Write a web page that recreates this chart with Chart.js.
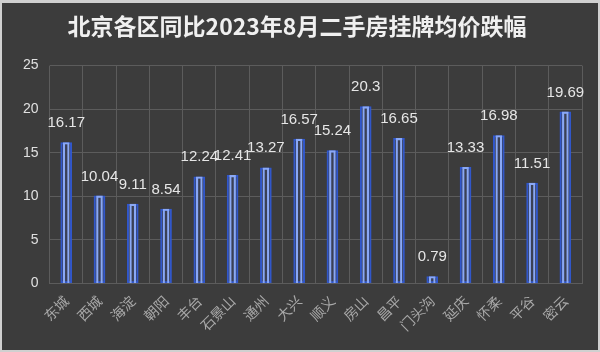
<!DOCTYPE html>
<html>
<head>
<meta charset="utf-8">
<script src="https://cdn.jsdelivr.net/npm/chart.js@4"></script>
<style>
  html, body { margin: 0; padding: 0; background: #3c3c3c; }
  #wrap { width: 600px; height: 352px; }
</style>
</head>
<body>
<div id="wrap"><canvas id="chart_dropByDistrict"></canvas></div>
<script>
// 北京各区 2023年8月 二手房挂牌均价同比跌幅 (%)
var districts = ['东城', '西城', '海淀', '朝阳', '丰台', '石景山', '通州', '大兴', '顺义', '房山', '昌平', '门头沟', '延庆', '怀柔', '平谷', '密云'];
var dropPct = [16.17, 10.04, 9.11, 8.54, 12.24, 12.41, 13.27, 16.57, 15.24, 20.3, 16.65, 0.79, 13.33, 16.98, 11.51, 19.69];
var yTicks = [0, 5, 10, 15, 20, 25];

var chart_dropByDistrict = new Chart(document.getElementById('chart_dropByDistrict'), {
    type: 'bar',
    data: {
        labels: districts,
        datasets: [
            {
                label: 'outer',
                data: dropPct,
                barThickness: 11,
                borderWidth: 2,
                borderColor: 'rgba(48, 88, 210, 0.95)',
                backgroundColor: '#3a4055',
                borderSkipped: false,
                grouped: false,
                order: 2
            },
            {
                label: 'inner',
                data: dropPct,
                barThickness: 6,
                borderWidth: 1.5,
                borderColor: '#8aa8f5',
                backgroundColor: 'rgba(0,0,0,0)',
                borderSkipped: 'bottom',
                grouped: false,
                order: 1
            }
        ]
    },
    options: {
        animation: false,
        responsive: true,
        maintainAspectRatio: false,
        layout: { padding: { left: 12, right: 18, top: 2, bottom: 9 } },
        plugins: {
            legend: { display: false },
            tooltip: { enabled: false },
            title: {
                display: true,
                text: '北京各区同比2023年8月二手房挂牌均价跌幅',
                color: '#f0f0f0',
                font: { family: '"Noto Sans CJK SC"', size: 23, weight: 'bold' },
                padding: { top: 10, bottom: 26 }
            }
        },
        scales: {
            x: {
                grid: { color: '#5c5c5c', offset: true, drawTicks: false },
                border: { color: '#5c5c5c' },
                ticks: {
                    color: '#a8a8a8',
                    font: { family: '"Noto Sans CJK SC"', size: 14 },
                    maxRotation: 45,
                    minRotation: 45,
                    padding: 9
                }
            },
            y: {
                min: 0,
                max: 25,
                afterBuildTicks: function(axis) {
                    axis.ticks = yTicks.map(function(v) { return { value: v }; });
                },
                grid: { color: '#5c5c5c', drawTicks: false },
                border: { display: false },
                ticks: {
                    color: '#e0e0e0',
                    font: { family: '"Liberation Sans"', size: 14 },
                    padding: 11
                }
            }
        }
    },
    plugins: [{
        id: 'frameAndLabels',
        beforeDraw: (chart) => {
            const ctx = chart.ctx;
            ctx.save();
            ctx.fillStyle = '#d0d0d0';
            ctx.fillRect(0, 0, chart.width, chart.height);
            ctx.fillStyle = '#3c3c3c';
            ctx.fillRect(2, 3, chart.width - 4, chart.height - 5);
            ctx.restore();
        },
        afterDatasetsDraw: (chart) => {
            const ctx = chart.ctx;
            const meta = chart.getDatasetMeta(0);
            ctx.save();
            ctx.fillStyle = '#e6e6e6';
            ctx.font = '15px "Liberation Sans"';
            ctx.textAlign = 'center';
            ctx.textBaseline = 'bottom';
            meta.data.forEach(function(bar, i) {
                ctx.fillText(String(dropPct[i]), bar.x, bar.y - 12);
            });
            ctx.restore();
        }
    }]
});
</script>
</body>
</html>
